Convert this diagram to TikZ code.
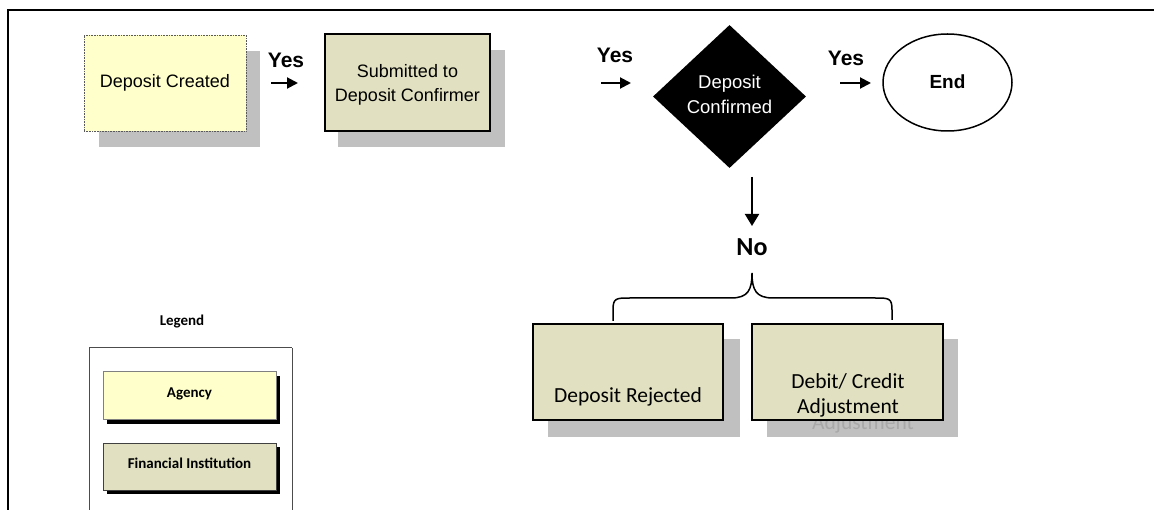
\documentclass[tikz,border=0pt]{standalone}
\usepackage{fontspec}
\setmainfont{Liberation Sans}
\newfontfamily\calib{Carlito}
\usetikzlibrary{shapes.geometric,arrows.meta}
\definecolor{agency}{HTML}{FFFFCC}
\definecolor{fininst}{HTML}{E1E1C1}
\definecolor{shadowgray}{HTML}{C0C0C0}
\definecolor{ghost}{HTML}{A8A8A8}
\tikzset{
  shadowbox/.style={fill=shadowgray, draw=none, inner sep=0pt},
  agencybox/.style={fill=agency, draw=gray!70!black, densely dotted, line width=0.6pt, inner sep=0pt},
  finbox/.style={fill=fininst, draw=black, line width=2pt, inner sep=0pt},
  arialtext/.style={font=\fontsize{18}{24}\selectfont, align=center, inner sep=0pt},
  calibtext/.style={font=\calib\fontsize{21.5}{25}\selectfont, align=center, inner sep=0pt},
  yeslabel/.style={font=\bfseries\fontsize{21}{24}\selectfont, inner sep=0pt},
  flowarrow/.style={line width=2pt, -{Triangle[length=11pt,width=11pt]}},
  legendbox/.style={draw=gray!60!black, line width=1pt, inner sep=0pt},
  legendtext/.style={font=\calib\bfseries\fontsize{15}{18}\selectfont, inner sep=0pt},
}
\begin{document}
\begin{tikzpicture}[x=1pt,y=-1pt]
\useasboundingbox (0,0) rectangle (1154,510);
% frame
\coordinate (fr1) at (8,510);
\coordinate (fr2) at (8,10);
\coordinate (fr3) at (1154,10);
\draw[line width=2pt] (fr1) -- (fr2) -- (fr3);

% Deposit Created
\node[shadowbox, minimum width=161pt, minimum height=96pt] (s1) at (179,99) {};
\node[agencybox, minimum width=162pt, minimum height=96pt] (created) at (165,83) {};
\node[arialtext] (createdtxt) at (165,83) {Deposit Created};

% Submitted to Deposit Confirmer
\node[shadowbox, minimum width=167pt, minimum height=97pt] (s2) at (421.5,98.5) {};
\node[finbox, minimum width=165pt, minimum height=97pt] (submitted) at (407.5,82.5) {};
\node[arialtext] (submittedtxt) at (407.5,85) {Submitted to\\Deposit Confirmer};

% Diamond
\node[diamond, fill=black, minimum width=153pt, minimum height=143pt, inner sep=0pt] (confirmed) at (729.5,96.5) {};
\node[arialtext, font=\fontsize{18.5}{25}\selectfont, text=white] (confirmedtxt) at (729.5,94.5) {Deposit\\Confirmed};

% End
\node[ellipse, draw=black, line width=1.5pt, minimum width=129pt, minimum height=97pt, inner sep=0pt] (endnode) at (947.5,82.5) {};
\node[font=\bfseries\fontsize{19}{22}\selectfont, inner sep=0pt] (endtxt) at (947.5,82) {End};

% Yes arrows
\coordinate (a1s) at (271,83);
\coordinate (a1e) at (298,83);
\draw[flowarrow] (a1s) -- (a1e);
\node[yeslabel] (yes1) at (286,60) {Yes};
\coordinate (a2s) at (601,83);
\coordinate (a2e) at (631,83);
\draw[flowarrow] (a2s) -- (a2e);
\node[yeslabel] (yes2) at (615,55) {Yes};
\coordinate (a3s) at (840,83);
\coordinate (a3e) at (871,83);
\draw[flowarrow] (a3s) -- (a3e);
\node[yeslabel] (yes3) at (846,58) {Yes};

% No arrow
\coordinate (dns) at (752,177);
\coordinate (dne) at (752,226);
\draw[line width=2pt, -{Triangle[length=12pt,width=14pt]}] (dns) -- (dne);
\node[font=\calib\bfseries\fontsize{26}{30}\selectfont, inner sep=0pt] (no) at (752,247) {No};

% Bottom boxes
\node[shadowbox, minimum width=192pt, minimum height=98pt] (s3) at (644,388) {};
\node[shadowbox, minimum width=191pt, minimum height=98pt] (s4) at (862.5,388) {};
\node[calibtext, text=ghost] (s4txt) at (863,424) {Adjustment};
\node[finbox, minimum width=190pt, minimum height=96pt] (rejected) at (628,372) {};
\node[calibtext] (rejectedtxt) at (628,397) {Deposit Rejected};
\node[finbox, minimum width=191pt, minimum height=96pt] (adjust) at (847.5,372) {};
\node[calibtext] (adjusttxt) at (848,395.5) {Debit/ Credit\\Adjustment};

% brace
\coordinate (bl) at ([xshift=-15pt]rejected.north);
\coordinate (br) at ([xshift=44pt]adjust.north);
\coordinate (btip) at (752,273);
\draw[line width=1.5pt] (bl) ++(0,-2) -- (613,310) .. controls (613,298) and (616,298) .. (630,298)
  -- (731,298) .. controls (748,298) and (752,290) .. (btip)
  .. controls (752,290) and (756,298) .. (773,298)
  -- (875,298) .. controls (889,298) and (892,298) .. (892,310) -- (892,320);

% Legend
\node[legendtext] (legendtitle) at (182,322) {Legend};
\draw[legendbox] (89,348) -- (89,515) (292,348) -- (292,515) (89,348) -- (292,348);
\node[fill=black, minimum width=173pt, minimum height=48pt, inner sep=0pt] (ags) at (193.5,400) {};
\node[fill=agency, draw=gray, line width=1pt, minimum width=173pt, minimum height=48pt, inner sep=0pt] (agencyleg) at (189.5,396) {};
\node[legendtext] (agencytxt) at (189.5,394) {Agency};
\node[fill=black, minimum width=173pt, minimum height=47pt, inner sep=0pt] (fis) at (193.5,470.5) {};
\node[fill=fininst, draw=gray!50!black, line width=1pt, minimum width=173pt, minimum height=47pt, inner sep=0pt] (finleg) at (189.5,466.5) {};
\node[legendtext] (fintxt) at (189.5,463) {Financial Institution};
\end{tikzpicture}
\end{document}
